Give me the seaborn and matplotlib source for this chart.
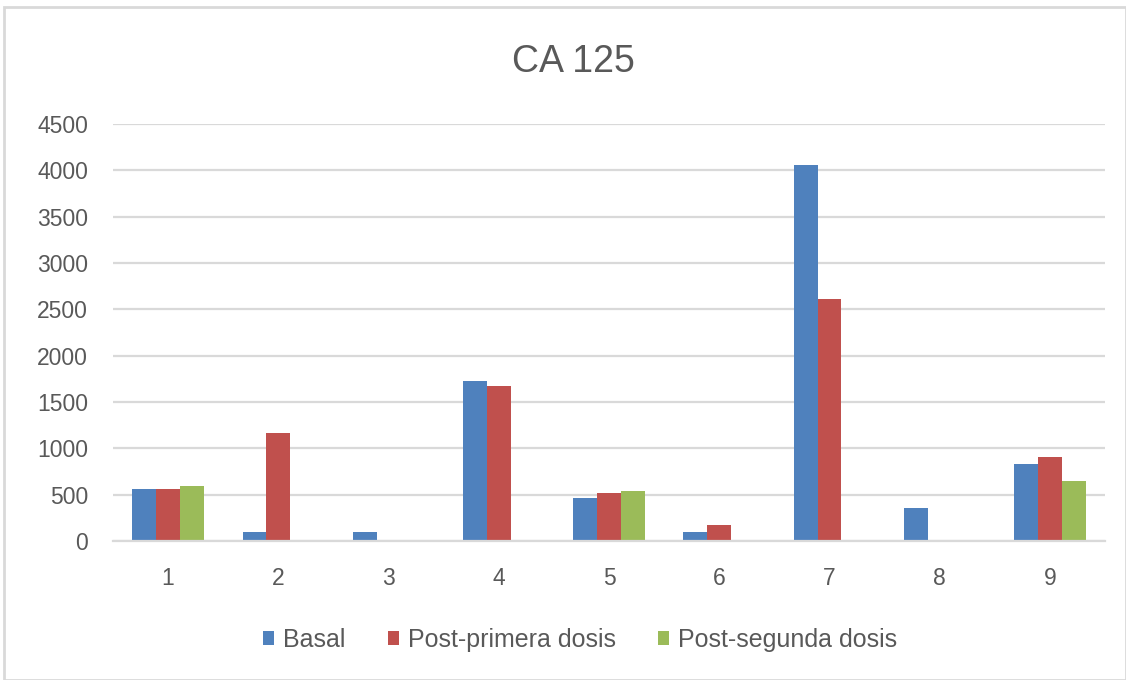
import numpy as np
import pandas as pd
import matplotlib
matplotlib.use("Agg")
import matplotlib.pyplot as plt
import seaborn as sns

# Patient numbers and CA 125 values per sampling moment
patients = ["1", "2", "3", "4", "5", "6", "7", "8", "9"]
basal = [565, 93, 93, 1723, 468, 93, 4059, 352, 830]
post_primera = [565, 1165, np.nan, 1673, 517, 176, 2612, np.nan, 906]
post_segunda = [597, np.nan, np.nan, np.nan, 536, np.nan, np.nan, np.nan, 647]
series_names = ["Basal", "Post-primera dosis", "Post-segunda dosis"]
y_ticks = [0, 500, 1000, 1500, 2000, 2500, 3000, 3500, 4000, 4500]

df = pd.DataFrame({
    "Paciente": patients * 3,
    "Serie": [series_names[0]] * 9 + [series_names[1]] * 9 + [series_names[2]] * 9,
    "Valor": basal + post_primera + post_segunda,
})

sns.set_theme(style="white")
plt.rcParams["font.family"] = ["Liberation Sans", "DejaVu Sans"]

text_color = "#595959"
grid_color = "#D9D9D9"
palette = ["#4F81BD", "#C0504D", "#9BBB59"]

fig = plt.figure(figsize=(11.26, 6.8), dpi=100)
ax = fig.add_axes([113 / 1126, 1 - 541 / 680, (1105 - 113) / 1126, (541 - 124) / 680])

sns.barplot(data=df, x="Paciente", y="Valor", hue="Serie", order=patients,
            hue_order=series_names, palette=palette, width=0.65,
            saturation=1, linewidth=0, ax=ax, legend=True)

ax.set_ylim(0, 4500)
ax.set_xlim(-0.5, len(patients) - 0.5)
ax.set_yticks(y_ticks)
ax.yaxis.grid(True, color=grid_color, linewidth=1.6)
ax.set_axisbelow(True)
for side in ["top", "right", "left"]:
    ax.spines[side].set_visible(False)
ax.spines["bottom"].set_color(grid_color)
ax.spines["bottom"].set_linewidth(1.6)
ax.tick_params(axis="both", length=0, colors=text_color, labelsize=16.5)
ax.tick_params(axis="x", pad=19)
ax.tick_params(axis="y", pad=18)
ax.set_xlabel("")
ax.set_ylabel("")

fig.suptitle("CA 125", x=573 / 1126, y=1 - 62 / 680, va="center",
             fontsize=27, color=text_color)

handles, labels = ax.get_legend_handles_labels()
ax.get_legend().remove()
fig.legend(handles, labels, loc="center", bbox_to_anchor=(580 / 1126, 1 - 640 / 680),
           ncol=3, frameon=False, fontsize=18, labelcolor=text_color,
           handlelength=0.44, handleheight=0.44, handletextpad=0.36, columnspacing=1.7)

# Chart border
border = plt.Rectangle((4 / 1126, 0), 1 - 4 / 1126, 1 - 7 / 680, transform=fig.transFigure,
                       fill=False, edgecolor="#D9D9D9", linewidth=2)
fig.patches.append(border)

fig.savefig("out.png", dpi=100, facecolor="white")
